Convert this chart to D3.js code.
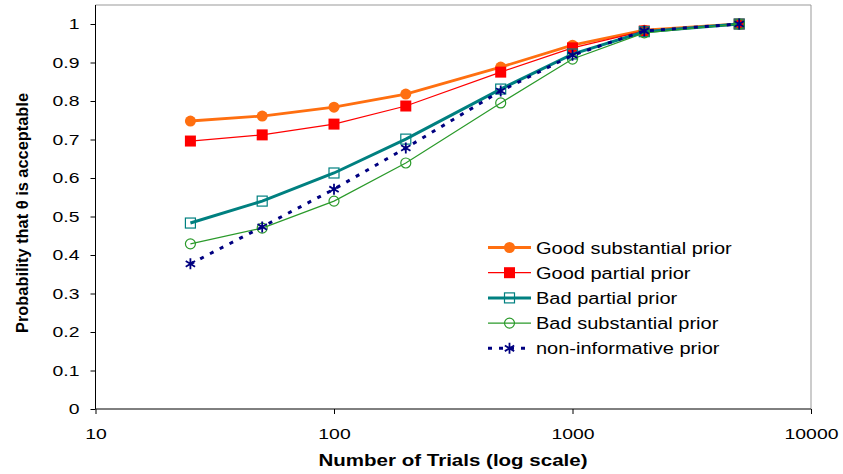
<!DOCTYPE html>
<html><head><meta charset="utf-8">
<script src="https://cdn.jsdelivr.net/npm/d3@7"></script>
<style>body{margin:0;background:#fff}svg{display:block}</style>
</head><body>
<script>
const trials = [25, 50, 100, 200, 500, 1000, 2000, 5000];
const goodSubstantial = [0.748, 0.761, 0.784, 0.818, 0.888, 0.945, 0.984, 1.0];
const goodPartial     = [0.696, 0.712, 0.740, 0.787, 0.875, 0.938, 0.982, 1.0];
const badPartial      = [0.483, 0.540, 0.613, 0.701, 0.831, 0.922, 0.980, 1.0];
const badSubstantial  = [0.429, 0.470, 0.540, 0.639, 0.795, 0.909, 0.977, 1.0];
const nonInformative  = [0.377, 0.473, 0.571, 0.678, 0.826, 0.919, 0.982, 1.0];
const seriesNames = ["Good substantial prior","Good partial prior","Bad partial prior","Bad substantial prior","non-informative prior"];
const xTicks = [10, 100, 1000, 10000];
const yTicks = [0,0.1,0.2,0.3,0.4,0.5,0.6,0.7,0.8,0.9,1];

const W = 843, H = 474;
const svg = d3.select("body").append("svg").attr("width",W).attr("height",H);
const x = d3.scaleLog().domain([10,10000]).range([95.5, 811]);
const y = d3.scaleLinear().domain([0,1.0]).range([409, 24]);
const yTop = 5;
const STRETCH = 1.25;
function stretch(sel, f){
  sel.each(function(){
    const w = this.getComputedTextLength();
    d3.select(this).attr("textLength", w*(f||STRETCH)).attr("lengthAdjust","spacingAndGlyphs");
  });
}

// plot border (top/right gray)
svg.append("path").attr("d",`M${x(10)},${yTop}H${x(10000)}V${y(0)}`)
  .attr("fill","none").attr("stroke","#999").attr("stroke-width",1);

const font = "Arial, 'Liberation Sans', sans-serif";
const yAxis = d3.axisLeft(y).tickValues(yTicks).tickSize(5).tickPadding(11).tickFormat(d3.format("~g"));
const gy = svg.append("g").attr("transform",`translate(${x(10)},0)`).call(yAxis);
gy.select(".domain").attr("d",`M0,${yTop}V${y(0)}`).attr("stroke","#000");
gy.selectAll("text").attr("font-family",font).attr("font-size",15.5).attr("fill","#000").call(stretch);
const xAxis = d3.axisBottom(x).tickValues(xTicks).tickSize(5).tickPadding(14).tickFormat(d3.format("d"));
const gx = svg.append("g").attr("transform",`translate(0,${y(0)})`).call(xAxis);
gx.select(".domain").attr("d",`M${x(10)},0H${x(10000)}`).attr("stroke","#000");
gx.selectAll("text").attr("font-family",font).attr("font-size",15.5).attr("fill","#000").call(stretch);

svg.append("text").attr("x",453).attr("y",466).attr("text-anchor","middle")
  .attr("font-family",font).attr("font-size",16.5).attr("font-weight","bold").text("Number of Trials (log scale)")
  .attr("textLength",269).attr("lengthAdjust","spacingAndGlyphs");
svg.append("text").attr("transform","translate(28,213) rotate(-90)").attr("text-anchor","middle")
  .attr("font-family",font).attr("font-size",16).attr("font-weight","bold").text("Probability that θ is acceptable")
  .attr("textLength",240).attr("lengthAdjust","spacingAndGlyphs");

const series = [
  {name:seriesNames[0], vals:goodSubstantial, color:"#FF6F10", width:2.8, dash:null, marker:"fcircle"},
  {name:seriesNames[1], vals:goodPartial, color:"#FF0000", width:1.2, dash:null, marker:"fsquare"},
  {name:seriesNames[2], vals:badPartial, color:"#008080", width:3, dash:null, marker:"osquare"},
  {name:seriesNames[3], vals:badSubstantial, color:"#2A9A2A", width:1.2, dash:null, marker:"ocircle"},
  {name:seriesNames[4], vals:nonInformative, color:"#000080", width:3, dash:"4,7", marker:"star"}
];

function drawMarker(g, type, color, cx, cy){
  if(type==="fcircle") g.append("circle").attr("cx",cx).attr("cy",cy).attr("r",5.5).attr("fill",color);
  else if(type==="ocircle") g.append("circle").attr("cx",cx).attr("cy",cy).attr("r",5).attr("fill","none").attr("stroke",color).attr("stroke-width",1.2);
  else if(type==="fsquare") g.append("rect").attr("x",cx-5.5).attr("y",cy-5.5).attr("width",11).attr("height",11).attr("fill",color);
  else if(type==="osquare") g.append("rect").attr("x",cx-5).attr("y",cy-5).attr("width",10).attr("height",10).attr("fill","none").attr("stroke",color).attr("stroke-width",1.2);
  else if(type==="star"){
    const r=5.5, d=r*0.85;
    g.append("path").attr("d",`M${cx},${cy-r}V${cy+r}M${cx-d},${cy-d*0.6}L${cx+d},${cy+d*0.6}M${cx-d},${cy+d*0.6}L${cx+d},${cy-d*0.6}`)
      .attr("stroke",color).attr("stroke-width",1.8).attr("fill","none");
  }
}

const line = d3.line().x(d=>x(d[0])).y(d=>y(d[1]));
series.forEach(s=>{
  const g = svg.append("g");
  const pts = trials.map((t,i)=>[t,s.vals[i]]);
  g.append("path").attr("d",line(pts)).attr("fill","none").attr("stroke",s.color)
    .attr("stroke-width",s.width).attr("stroke-dasharray",s.dash);
  pts.forEach(p=>drawMarker(g,s.marker,s.color,x(p[0]),y(p[1])));
});

// legend
const lg = svg.append("g");
series.forEach((s,i)=>{
  const ly = 247.5 + i*25.2;
  lg.append("line").attr("x1",488).attr("x2",531).attr("y1",ly).attr("y2",ly)
    .attr("stroke",s.color).attr("stroke-width",s.width).attr("stroke-dasharray",s.dash);
  drawMarker(lg,s.marker,s.color,509.5,ly);
  lg.append("text").attr("x",536).attr("y",ly+6).attr("font-family",font).attr("font-size",16)
    .attr("fill","#000").text(s.name).call(stretch);
});
</script>
</body></html>
